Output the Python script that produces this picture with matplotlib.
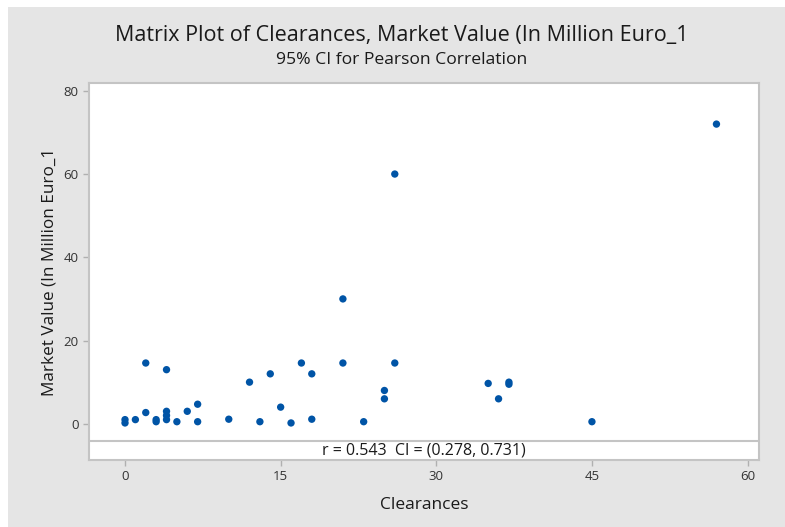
import matplotlib
matplotlib.use("Agg")

import matplotlib.pyplot as plt
from matplotlib.patches import Rectangle

clearances = [0, 0, 1, 2, 2, 3, 3, 4, 4, 4, 4, 5, 6, 7, 7, 10, 12, 13, 14,
              15, 16, 17, 18, 18, 21, 21, 23, 25, 25, 26, 26, 35, 36, 37, 37, 45, 57]
market_value = [1, 0.2, 1, 14.6, 2.7, 1, 0.5, 13, 3, 2, 1, 0.5, 3, 4.7, 0.5, 1.1, 10, 0.5, 12,
                4, 0.2, 14.6, 12, 1.1, 30, 14.6, 0.5, 8, 6, 60, 14.6, 9.7, 6, 10, 9.5, 0.5, 72]
x_ticks = [0, 15, 30, 45, 60]
y_ticks = [0, 20, 40, 60, 80]

title = "Matrix Plot of Clearances, Market Value (In Million Euro_1"
subtitle = "95% CI for Pearson Correlation"
note = "r = 0.543  CI = (0.278, 0.731)"

plt.rcParams["font.family"] = ["Open Sans", "DejaVu Sans"]

fig = plt.figure(figsize=(7.85, 5.27), dpi=100)
fig.patch.set_facecolor("white")
# grey panel behind the chart, small white margin top/left
fig.add_artist(Rectangle((8 / 785, 0), 1, 1 - 7 / 527, transform=fig.transFigure,
                         facecolor="#e5e5e5", edgecolor="none", zorder=-10))

ax = fig.add_axes([89 / 785, 67 / 527, 670 / 785, 376.7 / 527])
ax.set_facecolor("white")

ax.scatter(clearances, market_value, s=28, color="#0054a6", edgecolors="none", zorder=3)

ax.set_xlim(-3.47, 61.1)
ax.set_ylim(-8.7, 81.8)
ax.set_xticks(x_ticks)
ax.set_yticks(y_ticks)

for sp in ax.spines.values():
    sp.set_color("#c4c4c4")
    sp.set_linewidth(1.5)

ax.tick_params(direction="out", length=4, width=1, color="#b0b0b0",
               labelsize=9.5, labelcolor="#333333")

# correlation note box at the bottom of the panel
ax.axhline(-4.1, color="#c4c4c4", lw=1.5, zorder=2)
ax.text(0.5 * (-3.47 + 61.1), -6.45, note, ha="center", va="center",
        fontsize=11.5, color="#1a1a1a")

ax.set_xlabel("Clearances", fontsize=12.5, color="#1a1a1a", labelpad=10)
ax.set_ylabel("Market Value (In Million Euro_1", fontsize=12.3, color="#1a1a1a", labelpad=4)

fig.text(0.512, 1 - 35 / 527, title, ha="center", va="center", fontsize=15.5, color="#1a1a1a")
fig.text(0.512, 1 - 60 / 527, subtitle, ha="center", va="center", fontsize=12.6, color="#1a1a1a")

fig.savefig("out.png", dpi=100, facecolor=fig.get_facecolor())
plt.close(fig)
